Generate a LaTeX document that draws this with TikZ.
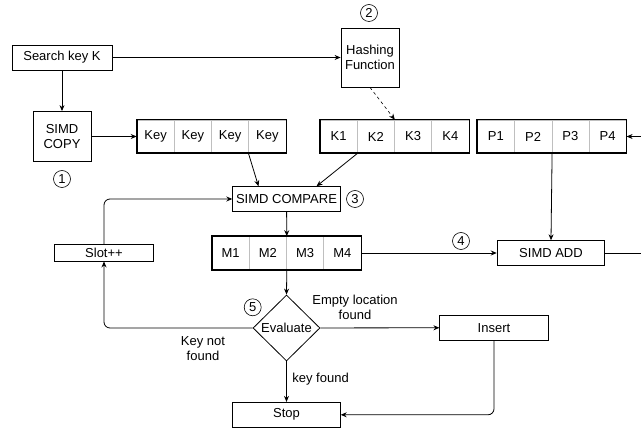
\documentclass[tikz,border=0pt]{standalone}
\usepackage{fontspec}
\setmainfont{Liberation Sans}
\usetikzlibrary{shapes.geometric,arrows.meta}

\tikzset{
  box/.style={draw, line width=0.8pt, inner sep=0pt, align=center},
  cell/.style={draw=gray!50, line width=0.6pt, minimum width=37.25pt, minimum height=33pt, inner sep=0pt},
  arraybox/.style={line width=1.6pt},
  num/.style={circle, draw, line width=0.6pt, minimum size=17pt, inner sep=0pt},
  lbl/.style={align=center, inner sep=0pt},
}

\begin{document}
\begin{tikzpicture}[x=1pt, y=-1pt, font=\fontsize{13}{15}\selectfont,
  >={Stealth[length=6pt,width=5pt]}, line width=0.8pt]
\useasboundingbox (0,0) rectangle (641,430);
% boxes:
\node[box, minimum width=100pt, minimum height=25pt] (search) at (62,57.5) {Search key K};
\node[box, minimum width=58pt, minimum height=59pt] (hash) at (370,57.5) {Hashing\\Function};
\node[box, minimum width=58pt, minimum height=50pt] (copy) at (62,136.5) {SIMD\\COPY};
\node[box, minimum width=107.6pt, minimum height=24.6pt] (compare) at (286.5,199) {SIMD COMPARE};
\node[box, minimum width=99.7pt, minimum height=16.7pt] (slot) at (104,252.7) {Slot++};
\node[box, minimum width=107.7pt, minimum height=24.6pt] (add) at (551,253) {SIMD ADD};
\node[box, diamond, aspect=1, minimum width=67pt, minimum height=66pt] (eval) at (286.5,328) {Evaluate};
\node[box, minimum width=108.3pt, minimum height=25.3pt] (insert) at (494,327.7) {Insert};
\node[box, minimum width=107.6pt, minimum height=25pt] (stop) at (286.5,414.8) {Stop};
% arrays:
\foreach \i in {1,...,4} \node[cell] (key\i) at ({137+37.25*(\i-0.5)},136.5) {Key};
\foreach \i in {1,...,4} \node[cell] (k\i) at ({320+37.25*(\i-0.5)},136.5) {K\i};
\foreach \i in {1,...,4} \node[cell] (p\i) at ({477.3+37.25*(\i-0.5)},136.5) {P\i};
\foreach \i in {1,...,4} \node[cell] (m\i) at ({212+37.25*(\i-0.5)},253) {M\i};
\draw[arraybox] (key1.north west) rectangle (key4.south east);
\draw[arraybox] (k1.north west) rectangle (k4.south east);
\draw[arraybox] (p1.north west) rectangle (p4.south east);
\draw[arraybox] (m1.north west) rectangle (m4.south east);
% step numbers:
\node[num] (n1) at (62,179) {1};
\node[num] (n2) at (369,13) {2};
\node[num] (n3) at (355,199) {3};
\node[num] (n4) at (461,241) {4};
\node[num] (n5) at (252.7,307.3) {5};
% outside ends:
\coordinate (pin) at (641,136.5);
\coordinate (aout) at (641,253);
% arrows:
\draw[->] (search) -- (hash);
\draw[->] (search) -- (copy);
\draw[->] (copy) -- (key1);
\draw[->, dashed, line width=0.6pt] (hash.south) -- (k2.north east);
\draw[->] (key4.south west) -- ([xshift=-28pt]compare.north);
\draw[->] (k1.south east) -- ([xshift=30pt]compare.north);
\draw[->, rounded corners=6pt] (slot.north) |- (compare.west);
\draw[->] (compare) -- (m2.north east);
\draw[->] (m4) -- (add);
\draw[->] (p2.south east) -- (add.north);
\draw (add) -- (aout);
\draw[->] (pin) -- (p4);
\draw[->] (m2.south east) -- (eval.north);
\draw[->, rounded corners=6pt] (eval.west) -| (slot.south);
\draw[->] (eval) -- (insert);
\draw[->] (eval) -- (stop);
\draw[->, rounded corners=6pt] (insert.south) |- (stop.east);
% labels:
\node[lbl] (notfound) at (203,349) {Key not\\found};
\node[lbl] (empty) at (355,307) {Empty location\\found};
\node[lbl, anchor=west] (found) at (292,379) {key found};
\end{tikzpicture}
\end{document}
